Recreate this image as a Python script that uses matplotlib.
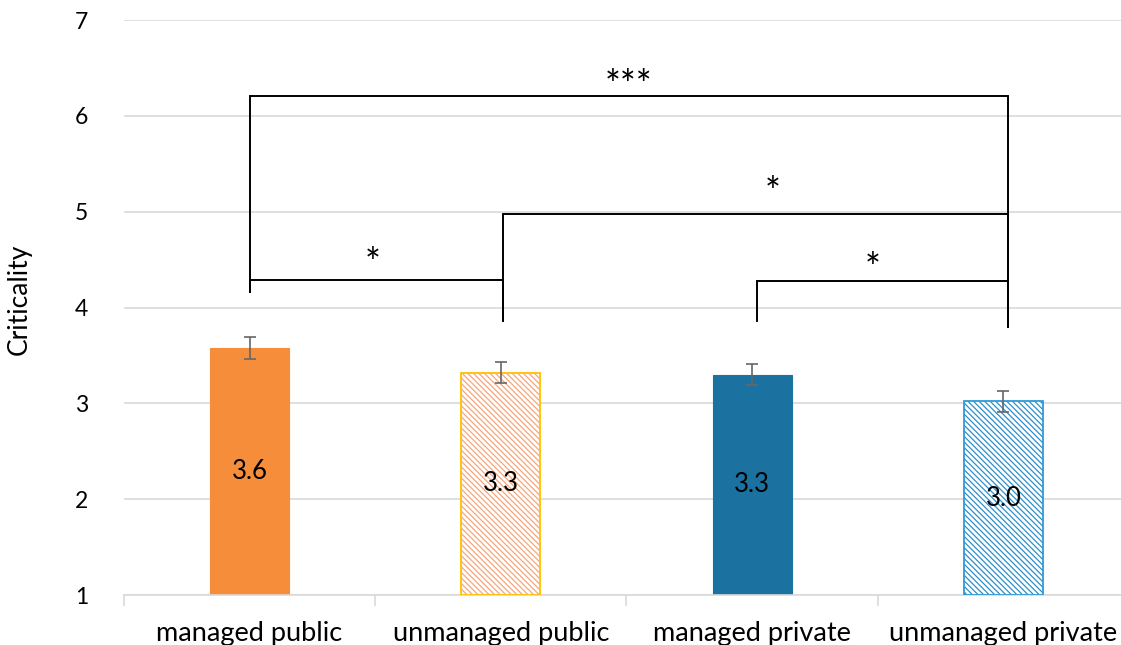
import matplotlib
matplotlib.use("Agg")
import matplotlib.pyplot as plt

plt.rcParams['font.family'] = ['Lato', 'DejaVu Sans']
plt.rcParams['hatch.linewidth'] = 0.9

# Data
categories = ["managed public", "unmanaged public", "managed private", "unmanaged private"]
means = [3.58, 3.32, 3.30, 3.02]
errors = [0.115, 0.11, 0.11, 0.11]
y_ticks = [1, 2, 3, 4, 5, 6, 7]

# Significance brackets: left x, right x, bar height, left leg bottom, right leg bottom, label
brackets = [
    (0.00, 3.02, 6.21, 4.16, 3.80, "***"),
    (0.00, 1.01, 4.29, 4.16, 3.86, "*"),
    (1.01, 3.02, 4.98, 3.86, 3.80, "*"),
    (2.02, 3.02, 4.28, 3.86, 3.80, "*"),
]
star_pos = [(1.51, 6.30), (0.49, 4.44), (2.08, 5.18), (2.48, 4.39)]

fill_colors = ["#F58D3B", "white", "#1B72A0", "white"]
hatch_colors = [None, "#F7A57A", None, "#2E8FCB"]
edge_colors = ["#F58D3B", "#FFC000", "#1B72A0", "#2E9BD6"]
hatches = [None, "\\\\\\\\\\\\", None, "\\\\\\\\\\\\"]

fig = plt.figure(figsize=(11.21, 6.45), dpi=100)
ax = fig.add_axes([124 / 1121, 50 / 645, 1005 / 1121, 575 / 645])

x = list(range(len(categories)))
width = 0.315
for i in x:
    if hatches[i]:
        ax.bar(i, means[i] - 1, width, bottom=1, color=fill_colors[i],
               edgecolor=hatch_colors[i], hatch=hatches[i], linewidth=0, zorder=2)
        ax.bar(i, means[i] - 1, width, bottom=1, fill=False,
               edgecolor=edge_colors[i], linewidth=1.3, zorder=3)
    else:
        ax.bar(i, means[i] - 1, width, bottom=1, color=fill_colors[i],
               edgecolor=edge_colors[i], linewidth=0.8, zorder=2)
    ax.errorbar(i, means[i], yerr=errors[i], ecolor="#666666", elinewidth=1.2,
                capsize=4, capthick=1.2, fmt="none", zorder=4)
    ax.text(i, (1 + means[i]) / 2, f"{means[i]:.1f}", ha="center", va="center",
            fontsize=18.5, color="black", zorder=5)

for xl, xr, h, lb, rb, lab in brackets:
    ax.plot([xl, xl, xr, xr], [lb, h, h, rb], color="black", lw=1.4,
            solid_joinstyle="miter", zorder=6, clip_on=False)
for (sx, sy), (_, _, _, _, _, lab) in zip(star_pos, brackets):
    ax.text(sx, sy, lab, ha="center", va="center", fontsize=27, zorder=6)

ax.set_xlim(-0.5, 3.5)
ax.set_ylim(1, 7)
ax.set_yticks(y_ticks)
ax.set_yticklabels([str(t) for t in y_ticks], fontsize=16.5)
ax.tick_params(axis="y", length=0, pad=26)
ax.grid(axis="y", color="#D9D9D9", lw=1.2, zorder=0)
ax.set_axisbelow(True)

ax.set_xticks(x)
ax.set_xticklabels(categories, fontsize=19.5)
ax.set_xticks([-0.5, 0.5, 1.5, 2.5, 3.5], minor=True)
ax.tick_params(axis="x", which="major", length=0, pad=19)
ax.tick_params(axis="x", which="minor", length=8, color="#D9D9D9", width=1.2)

for s in ["top", "right", "left"]:
    ax.spines[s].set_visible(False)
ax.spines["bottom"].set_color("#D9D9D9")
ax.spines["bottom"].set_linewidth(1.2)

ax.set_ylabel("Criticality", fontsize=19)
ax.yaxis.set_label_coords(-0.0915, 0.515)

fig.savefig("out.png", dpi=100, facecolor="white")
